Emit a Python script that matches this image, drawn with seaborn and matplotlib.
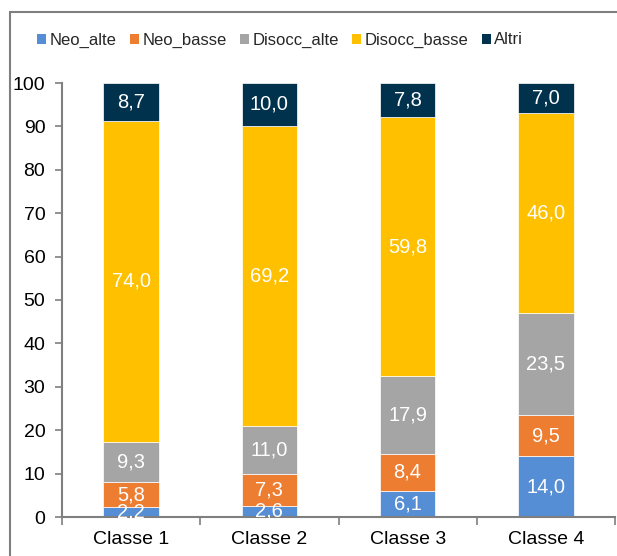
import numpy as np
import pandas as pd
import matplotlib
matplotlib.use("Agg")
import matplotlib.pyplot as plt
import seaborn as sns
from matplotlib.patches import Rectangle, Patch

classes = ["Classe 1", "Classe 2", "Classe 3", "Classe 4"]
series_names = ["Neo_alte", "Neo_basse", "Disocc_alte", "Disocc_basse", "Altri"]
neo_alte = [2.2, 2.6, 6.1, 14.0]
neo_basse = [5.8, 7.3, 8.4, 9.5]
disocc_alte = [9.3, 11.0, 17.9, 23.5]
disocc_basse = [74.0, 69.2, 59.8, 46.0]
altri = [8.7, 10.0, 7.8, 7.0]
colors = ["#558ED5", "#ED7D31", "#A5A5A5", "#FFC000", "#00314D"]

sns.set_style("white")
plt.rcParams["font.family"] = ["Liberation Sans", "DejaVu Sans"]

fig = plt.figure(figsize=(6.17, 5.56), dpi=100)
ax = fig.add_axes([62 / 617, 1 - 517 / 556, (615 - 62) / 617, (517 - 83) / 556])

# outer chart frame
fig.patches.append(Rectangle((10 / 617, -0.1), 1.2, 1 - 12 / 556 + 0.1,
                             transform=fig.transFigure, fill=False,
                             edgecolor="#7F7F7F", linewidth=1.5))

values = [neo_alte, neo_basse, disocc_alte, disocc_basse, altri]
bottom = np.zeros(len(classes))
for name, vals, col in zip(series_names, values, colors):
    df = pd.DataFrame({"classe": classes, "val": vals})
    sns.barplot(data=df, x="classe", y="val", color=col, width=0.4,
                bottom=bottom, edgecolor="white", linewidth=0.5, ax=ax,
                saturation=1)
    cont = ax.containers[-1]
    ax.bar_label(cont, labels=[f"{v:.1f}".replace(".", ",") for v in vals],
                 label_type="center", color="white", fontsize=14.5)
    bottom = bottom + np.array(vals)

ax.set_ylim(0, 100)
ax.set_xlim(-0.5, 3.5)
ax.set_yticks(range(0, 101, 10))
ax.set_xlabel("")
ax.set_ylabel("")
ax.tick_params(axis="both", labelsize=14, colors="black")
ax.tick_params(axis="x", length=0, pad=10)
ax.tick_params(axis="y", length=5, width=1.2, color="#7F7F7F", left=True, pad=7)
ax.set_xticks([-0.5, 0.5, 1.5, 2.5, 3.5], minor=True)
ax.tick_params(axis="x", which="minor", length=6, width=1.2, color="#7F7F7F",
               bottom=True)
for s in ["top", "right"]:
    ax.spines[s].set_visible(False)
for s in ["left", "bottom"]:
    ax.spines[s].set_color("#7F7F7F")
    ax.spines[s].set_linewidth(1.5)

handles = [Patch(facecolor=c, edgecolor="none") for c in colors]
fig.legend(handles, series_names, loc="center", ncol=5,
           bbox_to_anchor=(280 / 617, 1 - 40 / 556), frameon=False,
           fontsize=12, handlelength=0.55, handleheight=0.55,
           handletextpad=0.2, columnspacing=0.8)

fig.savefig("out.png", dpi=100)
